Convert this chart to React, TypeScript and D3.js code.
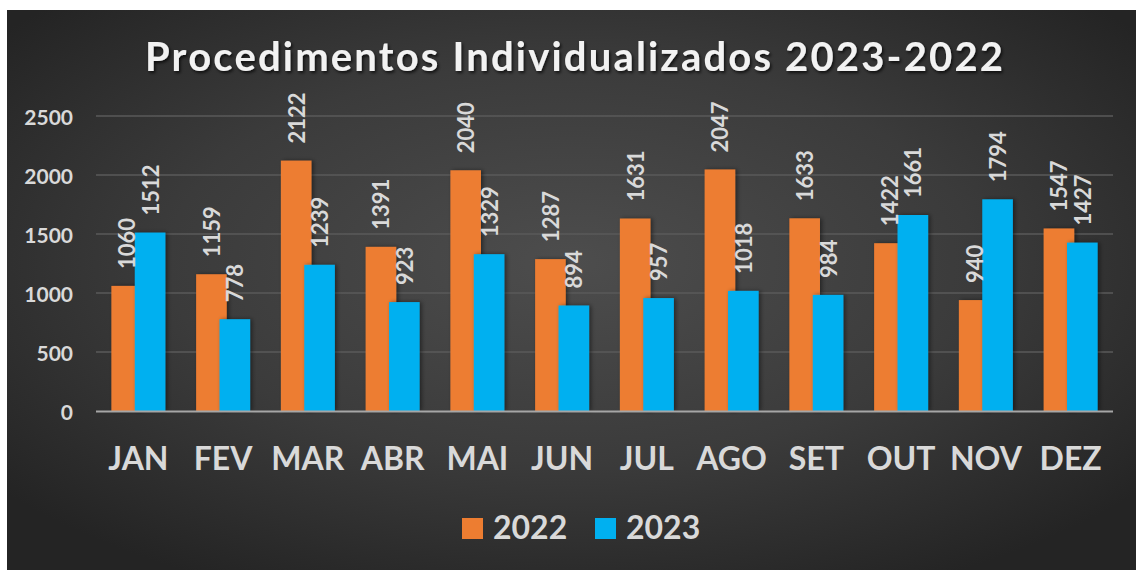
import React from "react";
import * as d3 from "d3";

const months = ["JAN", "FEV", "MAR", "ABR", "MAI", "JUN", "JUL", "AGO", "SET", "OUT", "NOV", "DEZ"];
const values2022 = [1060, 1159, 2122, 1391, 2040, 1287, 1631, 2047, 1633, 1422, 940, 1547];
const values2023 = [1512, 778, 1239, 923, 1329, 894, 957, 1018, 984, 1661, 1794, 1427];
const yTicks = [0, 500, 1000, 1500, 2000, 2500];
const seriesNames = ["2022", "2023"];
const title = "Procedimentos Individualizados 2023-2022";

const W = 1136;
const H = 570;
const FONT = "Lato, 'Open Sans', sans-serif";
const ORANGE = "#ED7D31";
const BLUE = "#00B0F0";
const TXT = "#D9D9D9";

export default function App() {
  const x = d3.scaleBand<string>().domain(months).range([96, 1113]).padding(0);
  const y = d3.scaleLinear().domain([0, 2500]).range([411, 116]);
  const barW = 30.6;
  const step = 23.4;
  const groupW = barW + step;
  const series = [values2022, values2023];
  const colors = [ORANGE, BLUE];

  return (
    <svg width={W} height={H} style={{ position: "absolute", left: 0, top: 0 }}>
      <defs>
        <radialGradient id="bg" cx="50%" cy="45%" r="65%">
          <stop offset="0%" stopColor="#4d4d4d" />
          <stop offset="55%" stopColor="#3b3b3b" />
          <stop offset="100%" stopColor="#242424" />
        </radialGradient>
        <filter id="tshadow" x="-5%" y="-30%" width="110%" height="160%">
          <feDropShadow dx="1.5" dy="2" stdDeviation="1.5" floodColor="#000" floodOpacity="0.7" />
        </filter>
        <filter id="bshadow" x="-30%" y="-10%" width="160%" height="120%">
          <feDropShadow dx="2" dy="0" stdDeviation="2" floodColor="#000" floodOpacity="0.45" />
        </filter>
      </defs>
      <rect x={0} y={0} width={W} height={H} fill="#ffffff" />
      <rect x={7} y={10} width={W - 7} height={H - 10} fill="url(#bg)" />

      <text
        x={145}
        y={71}
        textLength={858}
        lengthAdjust="spacing"
        fontFamily={FONT}
        fontWeight="bold"
        fontSize={40}
        fill="#F2F2F2"
        filter="url(#tshadow)"
      >
        {title}
      </text>

      {yTicks.map((t) => (
        <g key={t}>
          {t > 0 && (
            <line x1={96} x2={1113} y1={y(t)} y2={y(t)} stroke="#5a5a5a" strokeWidth={1.3} />
          )}
          <text
            x={73}
            y={y(t)}
            textAnchor="end"
            dominantBaseline="central"
            fontFamily={FONT}
            fontWeight="bold"
            fontSize={21}
            fill={TXT}
          >
            {t}
          </text>
        </g>
      ))}

      {months.map((m, i) => {
        const cx = (x(m) as number) + x.bandwidth() / 2;
        const x0 = cx - groupW / 2;
        return (
          <g key={m}>
            {series.map((vals, s) => (
              <rect
                key={s}
                x={x0 + s * step}
                y={y(vals[i])}
                width={barW}
                height={y(0) - y(vals[i])}
                fill={colors[s]}
                filter="url(#bshadow)"
              />
            ))}
          </g>
        );
      })}

      <line x1={96} x2={1113} y1={y(0) + 0.5} y2={y(0) + 0.5} stroke="#a6a6a6" strokeWidth={2} />

      {months.map((m, i) => {
        const cx = (x(m) as number) + x.bandwidth() / 2;
        const x0 = cx - groupW / 2;
        return (
          <g key={m + "l"}>
            {series.map((vals, s) => {
              const bx = x0 + s * step + barW / 2;
              const by = y(vals[i]) - 17;
              return (
                <text
                  key={s}
                  transform={`translate(${bx},${by}) rotate(-90)`}
                  textAnchor="start"
                  dominantBaseline="central"
                  fontFamily={FONT}
                  fontWeight="bold"
                  fontSize={22}
                  fill={TXT}
                >
                  {vals[i]}
                </text>
              );
            })}
            <text
              x={cx}
              y={470}
              textAnchor="middle"
              fontFamily={FONT}
              fontWeight="bold"
              fontSize={32}
              fill={TXT}
            >
              {m}
            </text>
          </g>
        );
      })}

      {seriesNames.map((n, s) => {
        const lx = s === 0 ? 462 : 595;
        return (
          <g key={n}>
            <rect x={lx} y={518} width={21} height={21} fill={colors[s]} />
            <text
              x={lx + 31}
              y={539}
              fontFamily={FONT}
              fontWeight="bold"
              fontSize={32}
              fill={TXT}
            >
              {n}
            </text>
          </g>
        );
      })}
    </svg>
  );
}
